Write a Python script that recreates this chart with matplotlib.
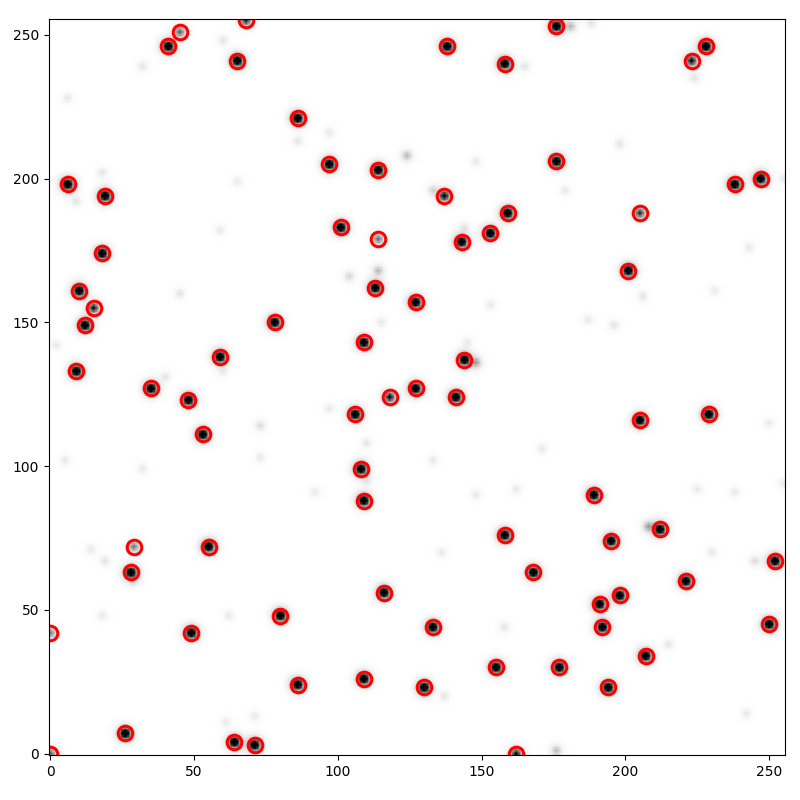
import numpy as np
import matplotlib
matplotlib.use('Agg')
import matplotlib.pyplot as plt

# image size
n = 256

# detected peaks (x, y) and their brightness
peak_x = [68, 45, 41, 65, 86, 97, 114, 6, 19, 101, 114, 18, 10, 15, 12, 113, 127, 78,
          109, 59, 9, 176, 138, 158, 228, 223, 176, 238, 247, 137, 159, 205, 153, 143,
          201, 144, 35, 48, 53, 106, 118, 127, 108, 109, 29, 55, 28, 116, 80, 49, 0,
          86, 109, 130, 26, 64, 71, 0, 141, 205, 229, 189, 158, 212, 195, 252, 168,
          221, 198, 191, 192, 250, 133, 207, 155, 177, 194, 162]
peak_y = [255, 251, 246, 241, 221, 205, 203, 198, 194, 183, 179, 174, 161, 155, 149, 162,
          157, 150, 143, 138, 133, 253, 246, 240, 246, 241, 206, 198, 200, 194, 188, 188,
          181, 178, 168, 137, 127, 123, 111, 118, 124, 127, 99, 88, 72, 72, 63, 56, 48,
          42, 42, 24, 26, 23, 7, 4, 3, 0, 124, 116, 118, 90, 76, 78, 74, 67, 63, 60, 55,
          52, 44, 45, 44, 34, 30, 30, 23, 0]
peak_amp = [0.5, 0.35, 1, 1, 1, 1, 1, 1, 1, 1, 0.32, 1, 1, 0.55, 1, 1, 1, 1,
            1, 1, 1, 1, 1, 1, 1, 0.6, 1, 1, 1, 0.65, 1, 0.48, 1, 1,
            1, 1, 1, 1, 1, 1, 0.6, 1, 1, 1, 0.3, 1, 1, 1, 1, 1, 0.28,
            1, 1, 1, 1, 1, 1, 0.35, 1, 1, 1, 1, 1, 1, 1, 1, 1,
            1, 1, 1, 1, 1, 1, 1, 1, 1, 1, 0.55]

# faint background spots
faint_x = [124, 32, 60, 6, 18, 9, 65, 59, 86, 97, 104, 114, 45, 115, 2, 40, 60,
           188, 181, 198, 148, 165, 224, 133, 179, 144, 206, 153, 231, 187, 196, 145,
           148, 255, 243, 73, 73, 32, 5, 14, 19, 29, 18, 62, 97, 110, 92, 110, 61, 71,
           171, 133, 148, 162, 136, 230, 245, 250, 255, 225, 238, 158, 215, 137, 242,
           176, 208]
faint_y = [208, 239, 248, 228, 202, 192, 199, 182, 213, 216, 166, 168, 160, 150, 142, 131,
           133, 254, 253, 212, 206, 239, 235, 196, 196, 183, 159, 156, 161, 151, 149, 143,
           136, 200, 176, 114, 103, 99, 102, 71, 67, 60, 48, 48, 120, 108, 91, 95, 11, 13,
           106, 102, 90, 92, 70, 70, 67, 115, 94, 92, 91, 44, 38, 20, 14, 1, 79]
faint_amp = [0.15, 0.06, 0.06, 0.05, 0.06, 0.06, 0.05, 0.05, 0.06, 0.05, 0.09, 0.15, 0.06,
             0.05, 0.05, 0.06, 0.05, 0.06, 0.15, 0.06, 0.05, 0.06, 0.06, 0.09, 0.05, 0.06,
             0.06, 0.05, 0.05, 0.05, 0.06, 0.05, 0.2, 0.05, 0.05, 0.08, 0.05, 0.05, 0.05,
             0.05, 0.06, 0.06, 0.05, 0.05, 0.05, 0.06, 0.05, 0.06, 0.05, 0.05, 0.05, 0.05,
             0.05, 0.05, 0.05, 0.05, 0.08, 0.05, 0.05, 0.05, 0.05, 0.06, 0.06, 0.06, 0.05,
             0.15, 0.2]

Y, X = np.mgrid[0:n, 0:n]
img = np.zeros((n, n))
for xs, ys, amps in [(peak_x, peak_y, peak_amp), (faint_x, faint_y, faint_amp)]:
    for x0, y0, a in zip(xs, ys, amps):
        r2 = (X - x0)**2 + (Y - y0)**2
        # sharp core plus a wider halo
        img += a * (np.exp(-r2 / 2.0) + 0.25 * np.exp(-r2 / 8.0))

fig = plt.figure(figsize=(8, 8), dpi=100)
ax = fig.add_axes([0.06125, 0.05625, 0.92, 0.92])
ax.imshow(img, cmap='gray_r', origin='lower', vmin=0, vmax=0.7)
ax.plot(peak_x, peak_y, 'o', mfc='none', mec='red', ms=10.5, mew=2.2)
ax.set_xlim(-0.5, n - 0.5)
ax.set_ylim(-0.5, n - 0.5)

fig.savefig('out.png')
